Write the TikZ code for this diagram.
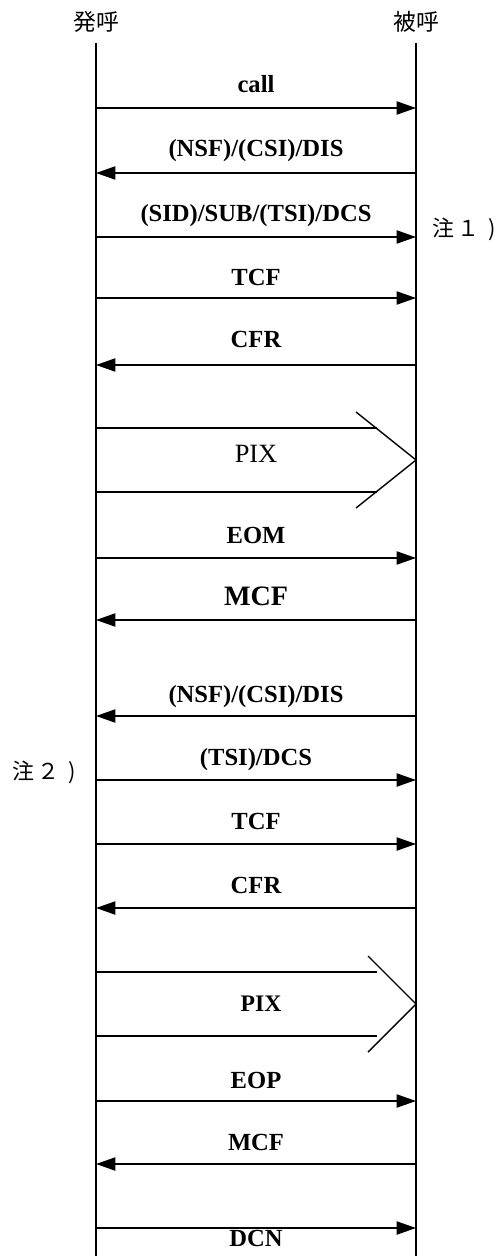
\documentclass[tikz,border=0pt]{standalone}
\usepackage{fontspec}
\setmainfont{Liberation Serif}
\newfontfamily\jpfont{Noto Sans CJK JP}
\usetikzlibrary{arrows.meta}

\begin{document}
\begin{tikzpicture}[x=0.02cm,y=-0.02cm,
    life/.style={line width=1pt},
    msg/.style={line width=0.8pt,-{Triangle[length=11pt,width=7.5pt]}},
    plain/.style={line width=0.8pt},
    lbl/.style={anchor=base,font=\fontsize{14}{16}\selectfont\bfseries},
    who/.style={font=\jpfont\fontsize{13}{15}\selectfont},
    note/.style={anchor=west,inner sep=0pt,font=\jpfont\fontsize{12.5}{14}\selectfont}]
    \useasboundingbox (0,0) rectangle (499,1256);
    \node[who] (caller) at (96,22) {発呼};
    \node[who] (callee) at (416,22) {被呼};
    \coordinate (ltop) at (96,43);
    \coordinate (lbot) at (96,1256);
    \coordinate (rtop) at (416,43);
    \coordinate (rbot) at (416,1256);
    \draw[life] (ltop) -- (lbot);
    \draw[life] (rtop) -- (rbot);

    \coordinate (a1) at (96,108);   \coordinate (b1) at (416,108);
    \draw[msg] (a1) -- (b1);
    \node[lbl] (m1) at (256,93) {call};
    \coordinate (a2) at (96,173);   \coordinate (b2) at (416,173);
    \draw[msg] (b2) -- (a2);
    \node[lbl] (m2) at (256,157) {(NSF)/(CSI)/DIS};
    \coordinate (a3) at (96,237);   \coordinate (b3) at (416,237);
    \draw[msg] (a3) -- (b3);
    \node[lbl] (m3) at (256,222) {(SID)/SUB/(TSI)/DCS};
    \node[note] (n1) at (432,229) {注\hspace{2pt}１\hspace{5pt})};
    \coordinate (a4) at (96,298);   \coordinate (b4) at (416,298);
    \draw[msg] (a4) -- (b4);
    \node[lbl] (m4) at (256,286) {TCF};
    \coordinate (a5) at (96,365);   \coordinate (b5) at (416,365);
    \draw[msg] (b5) -- (a5);
    \node[lbl] (m5) at (256,348) {CFR};

    \coordinate (p1u) at (96,428);  \coordinate (q1u) at (377,428);
    \coordinate (p1d) at (96,492);  \coordinate (q1d) at (377,492);
    \coordinate (t1u) at (356,412); \coordinate (t1) at (416,460);
    \coordinate (t1d) at (356,508);
    \draw[plain] (p1u) -- (q1u);
    \draw[plain] (p1d) -- (q1d);
    \draw[plain] (t1u) -- (t1) -- (t1d);
    \node[lbl,font=\fontsize{15}{17}\selectfont] (m6) at (256,462) {PIX};

    \coordinate (a7) at (96,558);   \coordinate (b7) at (416,558);
    \draw[msg] (a7) -- (b7);
    \node[lbl] (m7) at (256,543) {EOM};
    \coordinate (a8) at (96,620);   \coordinate (b8) at (416,620);
    \draw[msg] (b8) -- (a8);
    \node[lbl,font=\fontsize{16}{18}\selectfont\bfseries] (m8) at (256,605) {MCF};
    \coordinate (a9) at (96,716);   \coordinate (b9) at (416,716);
    \draw[msg] (b9) -- (a9);
    \node[lbl] (m9) at (256,702) {(NSF)/(CSI)/DIS};
    \coordinate (a10) at (96,780);  \coordinate (b10) at (416,780);
    \draw[msg] (a10) -- (b10);
    \node[lbl] (m10) at (256,765) {(TSI)/DCS};
    \node[note] (n2) at (12,772) {注\hspace{2pt}２\hspace{5pt})};
    \coordinate (a11) at (96,844);  \coordinate (b11) at (416,844);
    \draw[msg] (a11) -- (b11);
    \node[lbl] (m11) at (256,829) {TCF};
    \coordinate (a12) at (96,908);  \coordinate (b12) at (416,908);
    \draw[msg] (b12) -- (a12);
    \node[lbl] (m12) at (256,893) {CFR};

    \coordinate (p2u) at (96,972);  \coordinate (q2u) at (377,972);
    \coordinate (p2d) at (96,1036); \coordinate (q2d) at (377,1036);
    \coordinate (t2u) at (368,956); \coordinate (t2) at (416,1004);
    \coordinate (t2d) at (368,1052);
    \draw[plain] (p2u) -- (q2u);
    \draw[plain] (p2d) -- (q2d);
    \draw[plain] (t2u) -- (t2) -- (t2d);
    \node[lbl,font=\fontsize{13.5}{15}\selectfont\bfseries] (m13) at (261,1011) {PIX};

    \coordinate (a14) at (96,1101); \coordinate (b14) at (416,1101);
    \draw[msg] (a14) -- (b14);
    \node[lbl] (m14) at (256,1088) {EOP};
    \coordinate (a15) at (96,1164); \coordinate (b15) at (416,1164);
    \draw[msg] (b15) -- (a15);
    \node[lbl] (m15) at (256,1150) {MCF};
    \coordinate (a16) at (96,1228); \coordinate (b16) at (416,1228);
    \draw[msg] (a16) -- (b16);
    \node[lbl] (m16) at (256,1246) {DCN};
  \end{tikzpicture}
\end{document}
